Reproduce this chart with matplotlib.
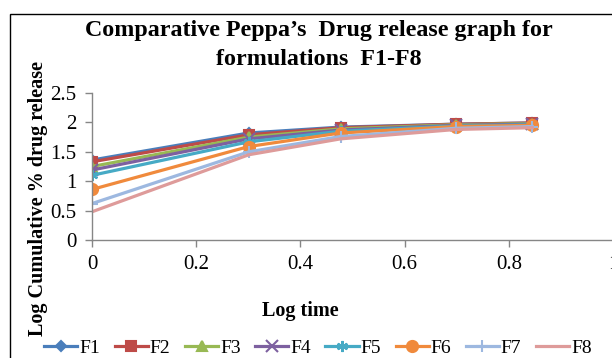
import matplotlib
matplotlib.use("Agg")
import matplotlib.pyplot as plt
from matplotlib.patches import Rectangle

# log time (log of 1, 2, 3, 5, 7 h)
log_time = [0, 0.301, 0.477, 0.699, 0.845]

F1 = [1.36, 1.82, 1.92, 1.97, 1.99]
F2 = [1.33, 1.79, 1.91, 1.97, 1.99]
F3 = [1.25, 1.75, 1.89, 1.96, 1.98]
F4 = [1.19, 1.72, 1.87, 1.95, 1.97]
F5 = [1.10, 1.67, 1.85, 1.94, 1.96]
F6 = [0.86, 1.59, 1.82, 1.93, 1.95]
F7 = [0.62, 1.50, 1.76, 1.90, 1.93]
F8 = [0.48, 1.45, 1.72, 1.88, 1.91]

names = ["F1", "F2", "F3", "F4", "F5", "F6", "F7", "F8"]
series = [F1, F2, F3, F4, F5, F6, F7, F8]
colors = ["#4A7EBB", "#BE4B48", "#98B954", "#7D60A0",
          "#46AAC5", "#F08A3C", "#9DB8E0", "#DE9B9A"]
markers = ["D", "s", "^", "x", (6, 2, 0), "o", "+", None]
msizes = [5, 7, 7, 8, 8, 8, 9, 0]

plt.rcParams['font.family'] = ['Liberation Serif', 'DejaVu Serif']

fig = plt.figure(figsize=(6.12, 3.58), dpi=100)
ax = fig.add_axes([92 / 612, 118 / 358, 521 / 612, 147 / 358])

for name, y, col, m, ms in zip(names, series, colors, markers, msizes):
    ax.plot(log_time, y, color=col, linewidth=2.3, marker=m, markersize=ms,
            markeredgecolor=col, markerfacecolor=col, markeredgewidth=1.5,
            label=name)

ax.set_xlim(0, 1)
ax.set_ylim(0, 2.5)
ax.set_xticks([0, 0.2, 0.4, 0.6, 0.8, 1.0])
ax.set_xticklabels(["0", "0.2", "0.4", "0.6", "0.8", "1"])
ax.set_yticks([0, 0.5, 1, 1.5, 2, 2.5])
ax.set_yticklabels(["0", "0.5", "1", "1.5", "2", "2.5"])
ax.tick_params(labelsize=15, color="#868686", length=5, width=1)
ax.tick_params(axis="y", pad=6)
ax.tick_params(axis="x", pad=6)
for s in ["top", "right"]:
    ax.spines[s].set_visible(False)
for s in ["left", "bottom"]:
    ax.spines[s].set_color("#868686")
    ax.spines[s].set_linewidth(1)

fig.text(319 / 612, 1 - 45 / 358,
         "Comparative Peppa\u2019s  Drug release graph for\nformulations  F1-F8",
         ha="center", va="center", fontsize=17.3, fontweight="bold",
         linespacing=1.5)
fig.text(300 / 612, 1 - 311 / 358, "Log time", ha="center", va="center",
         fontsize=14.5, fontweight="bold")
fig.text(38 / 612, 1 - 198 / 358, "Log Cumulative % drug release",
         ha="center", va="center", rotation=90, fontsize=14.5,
         fontweight="bold")

fig.legend(loc="center", bbox_to_anchor=(318 / 612, 1 - 348 / 358),
           ncol=8, frameon=False, fontsize=14, handlelength=1.7,
           handletextpad=0.1, columnspacing=0.75, borderpad=0)

fig.patches.append(Rectangle((10 / 612, -0.1), 1.2, 1 - 14 / 358 + 0.1,
                             transform=fig.transFigure, fill=False,
                             edgecolor="black", linewidth=1))

fig.savefig("out.png", dpi=100)
